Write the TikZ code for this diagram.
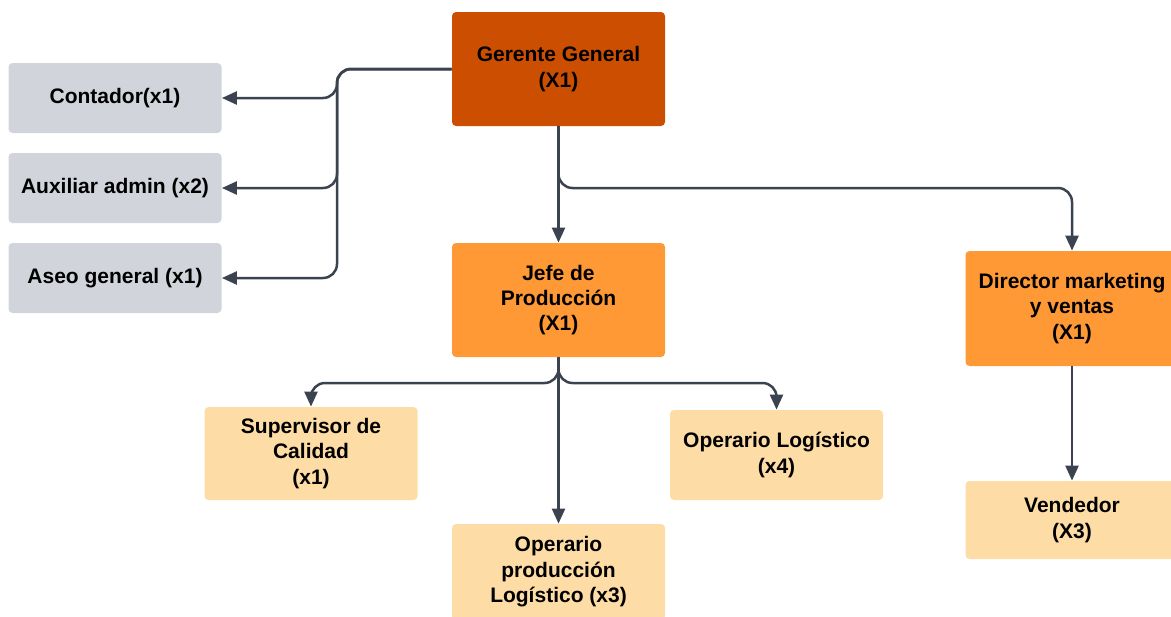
\documentclass[tikz,border=0pt]{standalone}
\usepackage{fontspec}
\setmainfont{Liberation Sans}
\usetikzlibrary{arrows.meta}
\definecolor{topcol}{HTML}{CC4E00}
\definecolor{midcol}{HTML}{FE9935}
\definecolor{lowcol}{HTML}{FEDCA6}
\definecolor{staffcol}{HTML}{D1D5DB}
\definecolor{linecol}{HTML}{3B4350}
\tikzset{
	box/.style={rounded corners=2pt, align=center, inner sep=0pt, text=black,
		font=\bfseries\fontsize{10.5}{12.7}\selectfont, minimum width=106.5pt},
	conn/.style={draw=linecol, line width=1.25pt, rounded corners=7pt,
		-{Triangle[width=6.5pt,length=7.5pt]}}
}
\begin{document}
\begin{tikzpicture}[x=0.5pt,y=-0.5pt]
	\useasboundingbox (0,0) rectangle (1171,616);
	% cajas
	\node[box, fill=topcol, minimum height=57pt] (gerente) at (558.5,69) {Gerente General\\(X1)};
	\node[box, fill=staffcol, minimum height=35pt] (contador) at (115,98) {Contador(x1)};
	\node[box, fill=staffcol, minimum height=35pt] (auxiliar) at (115,188) {Auxiliar admin (x2)};
	\node[box, fill=staffcol, minimum height=35pt] (aseo) at (115,278) {Aseo general (x1)};
	\node[box, fill=midcol, minimum height=57pt] (jefe) at (558.5,300) {Jefe de\\Producción\\(X1)};
	\node[box, fill=midcol, minimum height=57.5pt] (director) at (1072,308.5) {Director marketing\\y ventas\\(X1)};
	\node[box, fill=lowcol, minimum height=46.5pt] (supervisor) at (311,453.5) {Supervisor de\\Calidad\\(x1)};
	\node[box, fill=lowcol, minimum height=45pt] (oplog) at (776.5,455) {Operario Logístico\\(x4)};
	\node[box, fill=lowcol, minimum height=48pt] (opprod) at (558.5,572) {Operario\\producción\\Logístico (x3)};
	\node[box, fill=lowcol, minimum height=39pt] (vendedor) at (1072,520) {Vendedor\\(X3)};
	% conectores
	\draw[conn] (gerente.west) -- (337,69) -- (337,98) -- (contador.east);
	\draw[conn] (gerente.west) -- (337,69) -- (337,188) -- (auxiliar.east);
	\draw[conn] (gerente.west) -- (337,69) -- (337,278) -- (aseo.east);
	\draw[conn] (gerente.south) -- (jefe.north);
	\draw[conn] (gerente.south) -- (558.5,188) -- (1072,188) -- (director.north);
	\draw[conn] (jefe.south) -- (558.5,383) -- (311,383) -- (supervisor.north);
	\draw[conn] (jefe.south) -- (opprod.north);
	\draw[conn] (jefe.south) -- (558.5,383) -- (776.5,383) -- (oplog.north);
	\draw[conn] (director.south) -- (vendedor.north);
\end{tikzpicture}
\end{document}
